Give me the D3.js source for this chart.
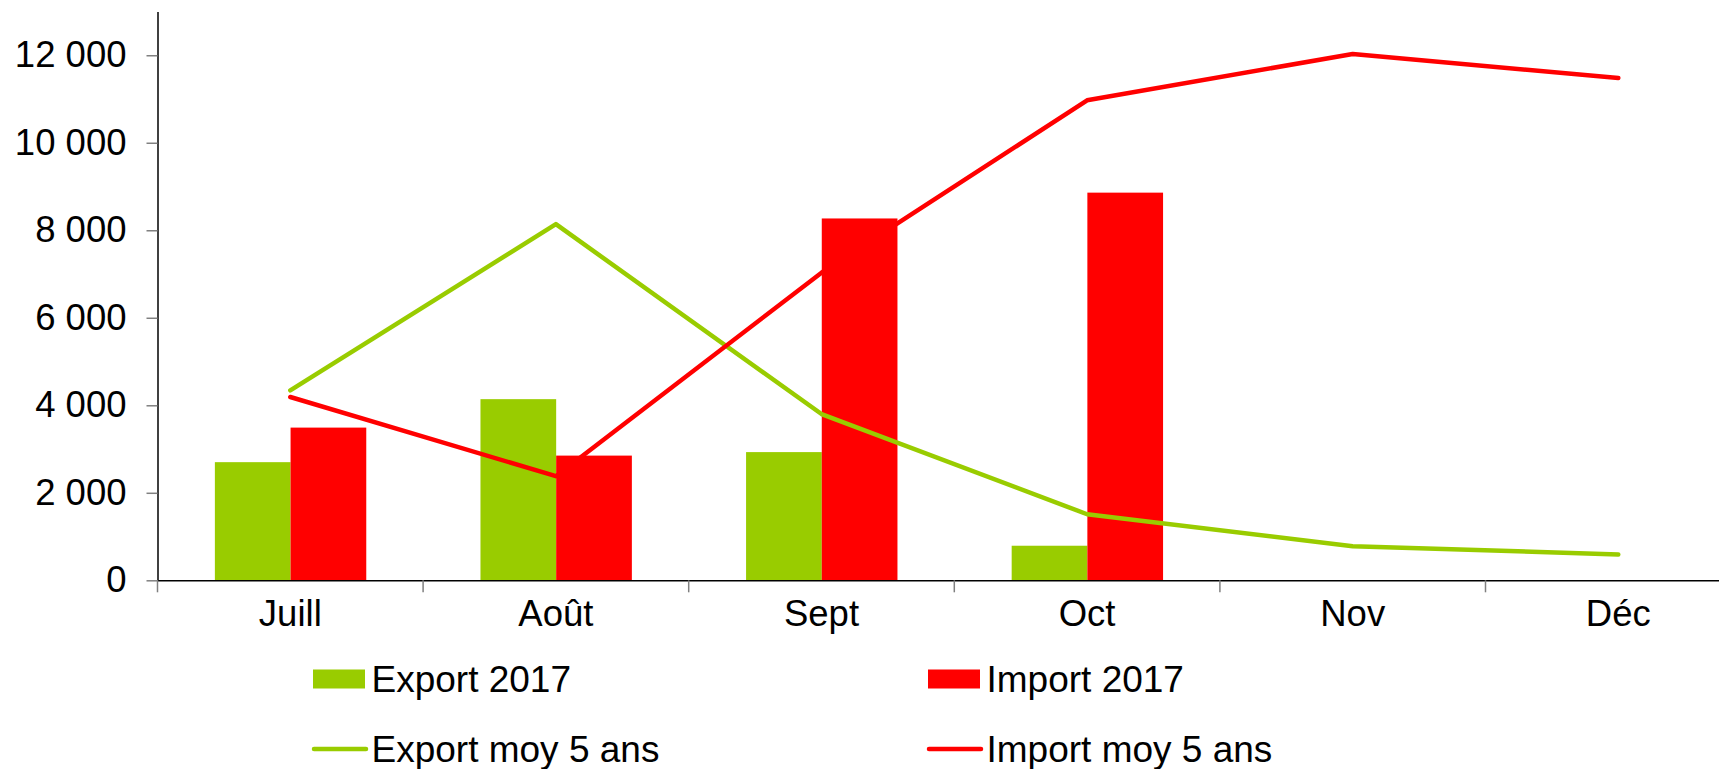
<!DOCTYPE html>
<html>
<head>
<meta charset="utf-8">
<script src="https://cdnjs.cloudflare.com/ajax/libs/d3/7.8.5/d3.min.js"></script>
<style>
  body { margin: 0; background: #fff; }
  svg text { font-family: "Liberation Sans", Arial, sans-serif; fill: #000; }
</style>
</head>
<body>
<div id="chart"></div>
<script>
// data
const months = ["Juill", "Août", "Sept", "Oct", "Nov", "Déc"];
const export2017 = [2700, 4140, 2930, 790, null, null];
const import2017 = [3490, 2850, 8270, 8860, null, null];
const exportMoy = [4340, 8140, 3800, 1510, 780, 590];
const importMoy = [4190, 2380, 7030, 10970, 12030, 11480];
const yTicks = [0, 2000, 4000, 6000, 8000, 10000, 12000];

const legendItems = [
  { name: "Export 2017", type: "bar", color: "#99cc00" },
  { name: "Import 2017", type: "bar", color: "#ff0000" },
  { name: "Export moy 5 ans", type: "line", color: "#99cc00" },
  { name: "Import moy 5 ans", type: "line", color: "#ff0000" }
];

const W = 1719, H = 769;
const left = 157.5, bandW = 265.6;
const fontSize = 36.5;

const svg = d3.select("#chart")
  .append("svg")
  .attr("width", W)
  .attr("height", H);

const x = d3.scaleBand()
  .domain(months)
  .range([left, left + bandW * months.length]);

const y = d3.scaleLinear()
  .domain([0, 13000])
  .range([580.3, 11.5]);

const sub = d3.scaleBand()
  .domain(["export", "import"])
  .range([0.216 * bandW, 0.786 * bandW]);

const fr = d3.formatLocale({ decimal: ",", thousands: " ", grouping: [3], currency: ["", " €"] });
const fmt = fr.format(",");

// bars
const barSeries = [
  { key: "export", values: export2017, color: "#99cc00" },
  { key: "import", values: import2017, color: "#ff0000" }
];
barSeries.forEach(s => {
  svg.append("g")
    .selectAll("rect")
    .data(months.map((m, i) => ({ m, v: s.values[i] })).filter(d => d.v != null))
    .enter()
    .append("rect")
    .attr("x", d => x(d.m) + sub(s.key))
    .attr("y", d => y(d.v))
    .attr("width", sub.bandwidth())
    .attr("height", d => y(0) - y(d.v))
    .attr("fill", s.color);
});

// lines
const line = d3.line()
  .x((d, i) => x(months[i]) + x.bandwidth() / 2)
  .y(d => y(d));

[[exportMoy, "#99cc00"], [importMoy, "#ff0000"]].forEach(([vals, col]) => {
  svg.append("path")
    .datum(vals)
    .attr("d", line)
    .attr("fill", "none")
    .attr("stroke", col)
    .attr("stroke-width", 4.5)
    .attr("stroke-linecap", "round")
    .attr("stroke-linejoin", "round");
});

// y axis
const yAxis = svg.append("g")
  .attr("transform", `translate(${left},0)`)
  .call(d3.axisLeft(y).tickValues(yTicks).tickFormat(fmt).tickSize(11).tickSizeOuter(0).tickPadding(20));
yAxis.select(".domain").attr("stroke", "#000").attr("stroke-width", 1.5);
yAxis.selectAll(".tick line").attr("stroke", "#808080").attr("stroke-width", 1.5);
yAxis.selectAll(".tick text")
  .attr("font-size", fontSize)
  .attr("font-family", "Liberation Sans, Arial, sans-serif");

// x axis
const xAxis = svg.append("g")
  .attr("transform", `translate(0,${y(0)})`)
  .call(d3.axisBottom(x).tickSize(0).tickSizeOuter(0).tickPadding(20));
xAxis.select(".domain").attr("stroke", "#000").attr("stroke-width", 1.5);
xAxis.selectAll(".tick text")
  .attr("font-size", fontSize)
  .attr("font-family", "Liberation Sans, Arial, sans-serif");

// boundary ticks between months
svg.append("g")
  .selectAll("line")
  .data(months)
  .enter()
  .append("line")
  .attr("x1", d => x(d))
  .attr("x2", d => x(d))
  .attr("y1", y(0))
  .attr("y2", y(0) + 12)
  .attr("stroke", "#808080")
  .attr("stroke-width", 1.5);

// legend
const legend = svg.append("g");
legendItems.forEach((it, i) => {
  const lx = 313 + (i % 2) * 615;
  const ly = 679 + Math.floor(i / 2) * 70;
  const g = legend.append("g").attr("transform", `translate(${lx},${ly})`);
  if (it.type === "bar") {
    g.append("rect").attr("x", 0).attr("y", -9.5).attr("width", 52).attr("height", 19).attr("fill", it.color);
  } else {
    g.append("line").attr("x1", 1).attr("x2", 53).attr("y1", 0).attr("y2", 0)
      .attr("stroke", it.color).attr("stroke-width", 4.5).attr("stroke-linecap", "round");
  }
  g.append("text")
    .attr("x", 58.5)
    .attr("y", 0)
    .attr("dy", "0.35em")
    .attr("font-size", 37)
    .text(it.name);
});
</script>
</body>
</html>
